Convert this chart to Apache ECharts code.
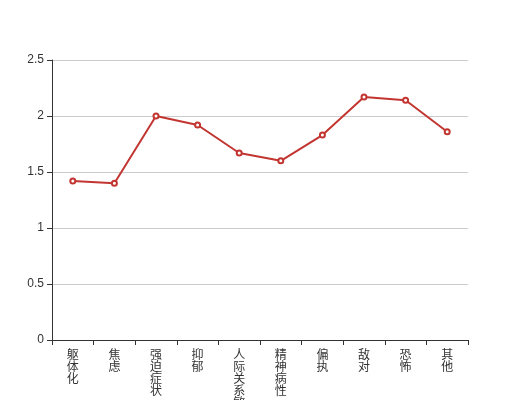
<!DOCTYPE html>
<html>
<head>
<meta charset="utf-8">
<script src="https://cdn.jsdelivr.net/npm/echarts@6/dist/echarts.min.js"></script>
<style>
html, body { margin: 0; padding: 0; background: #fff; }
#chart { width: 520px; height: 400px; }
</style>
</head>
<body>
<div id="chart"></div>
<script>
// 各因子
var categories = ['躯体化', '焦虑', '强迫症状', '抑郁', '人际关系敏感', '精神病性', '偏执', '敌对', '恐怖', '其他'];
// 因子均分
var scores = [1.42, 1.40, 2.00, 1.92, 1.67, 1.60, 1.83, 2.17, 2.14, 1.86];
var yTicks = [0, 0.5, 1, 1.5, 2, 2.5];

var myChart = echarts.init(document.getElementById('chart'));
myChart.setOption({
    animation: false,
    grid: { left: 52, right: 52, top: 60, bottom: 60, outerBoundsMode: 'none', containLabel: false },
    xAxis: {
        type: 'category',
        data: categories,
        boundaryGap: true,
        axisLine: { lineStyle: { color: '#333' } },
        axisTick: { show: true, alignWithLabel: false, lineStyle: { color: '#333' } },
        axisLabel: {
            interval: 0,
            color: '#333',
            fontSize: 12,
            lineHeight: 12,
            fontFamily: 'Noto Sans CJK SC',
            formatter: function (v) { return v.split('').join('\n'); }
        }
    },
    yAxis: {
        type: 'value',
        min: yTicks[0],
        max: yTicks[yTicks.length - 1],
        interval: 0.5,
        axisLine: { show: true, lineStyle: { color: '#333' } },
        axisTick: { show: true, lineStyle: { color: '#333' } },
        axisLabel: { color: '#333', fontSize: 12 },
        splitLine: { lineStyle: { color: '#ccc' } }
    },
    series: [{
        type: 'line',
        data: scores,
        symbol: 'emptyCircle',
        symbolSize: 5,
        itemStyle: { color: '#c23531' },
        lineStyle: { color: '#c23531', width: 2 }
    }]
});
</script>
</body>
</html>
